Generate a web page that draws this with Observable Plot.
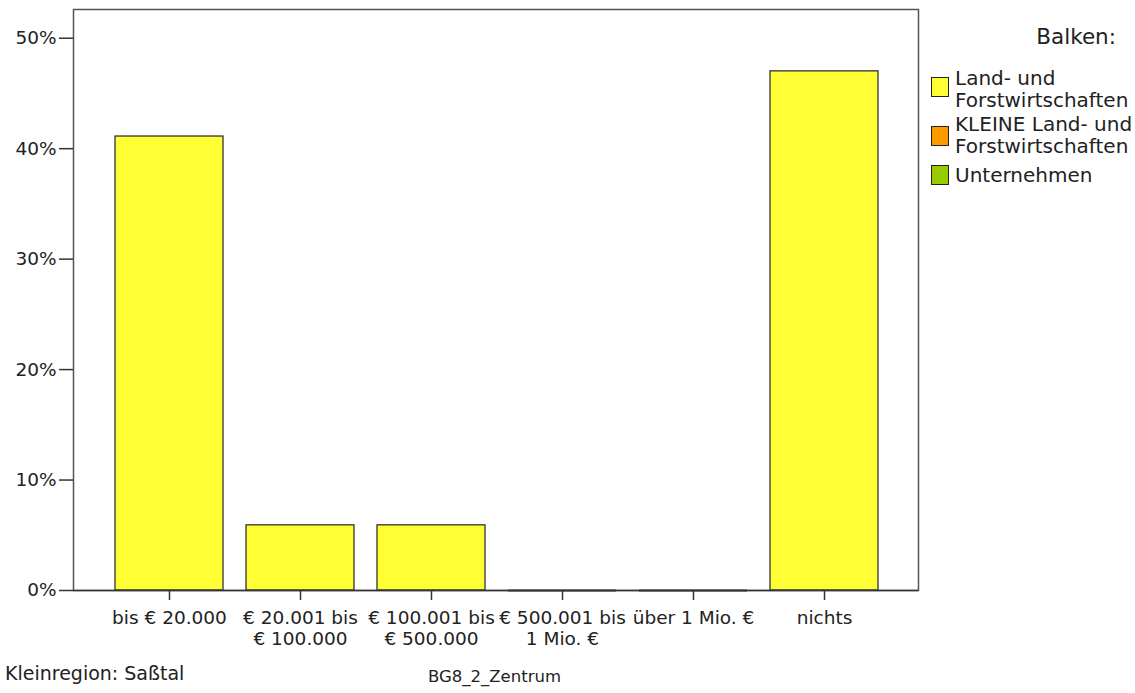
<!DOCTYPE html>
<html>
<head>
<meta charset="utf-8">
<script src="https://cdn.jsdelivr.net/npm/d3@7"></script>
<script src="https://cdn.jsdelivr.net/npm/@observablehq/plot@0.6"></script>
<style>
  body { margin: 0; background: #fff; font-family: "DejaVu Sans", sans-serif; color: #222; }
  #wrap { position: relative; width: 1135px; height: 693px; }
  .abs { position: absolute; white-space: pre; }
  .lbl { font-size: 20px; line-height: 22px; }
  .sw { position: absolute; width: 16px; height: 18px; border: 1px solid #222; }
</style>
</head>
<body>
<div id="wrap"></div>
<script>
const categories = ["bis € 20.000", "€ 20.001 bis\n€ 100.000", "€ 100.001 bis\n€ 500.000", "€ 500.001 bis\n1 Mio. €", "über 1 Mio. €", "nichts"];
const values = [41.1, 5.9, 5.9, 0, 0, 47.0];
const yTicks = [0, 10, 20, 30, 40, 50];
const legendLabels = ["Land- und\nForstwirtschaften", "KLEINE Land- und\nForstwirtschaften", "Unternehmen"];
const legendColors = ["#ffff33", "#ff9900", "#99cc00"];
const legendTitle = "Balken:";
const footLeft = "Kleinregion: Saßtal";
const footCenter = "BG8_2_Zentrum";

const data = categories.map((c, i) => ({cat: c, value: values[i]}));

const chart = Plot.plot({
  width: 1135,
  height: 693,
  marginLeft: 73,
  marginRight: 217,
  marginTop: 9,
  marginBottom: 103,
  style: {fontFamily: "'DejaVu Sans', sans-serif", fontSize: "18.5px", color: "#222"},
  x: {domain: categories, range: [91, 902], padding: 0.1756, label: null},
  y: {domain: [0, 52.6], label: null},
  marks: [
    Plot.barY(data.filter(d => d.value > 0), {x: "cat", y: "value", fill: "#ffff33", stroke: "#333", strokeWidth: 1.3}),
    Plot.tickY(data.filter(d => d.value === 0), {x: "cat", y: "value", stroke: "#333", strokeWidth: 2}),
    Plot.frame({stroke: "#555", strokeWidth: 1.5}),
    Plot.axisY({ticks: yTicks, tickFormat: d => d + "%", tickSize: 14, tickPadding: 3, stroke: "#333", strokeWidth: 1.5, label: null}),
    Plot.axisX({tickSize: 10, tickPadding: 9, lineHeight: 1.13, stroke: "#333", strokeWidth: 1.5, label: null}),
    Plot.ruleY([0], {stroke: "#333", strokeWidth: 1.5})
  ]
});

const wrap = document.getElementById("wrap");
wrap.appendChild(chart);

function addText(txt, left, top, cls, styles) {
  const d = document.createElement("div");
  d.className = "abs " + (cls || "");
  d.style.left = left + "px";
  d.style.top = top + "px";
  Object.assign(d.style, styles || {});
  d.textContent = txt;
  wrap.appendChild(d);
  return d;
}

// legend title, right-aligned at x=1116
const title = addText(legendTitle, 0, 24, "", {fontSize: "21.5px"});
title.style.left = "auto";
title.style.right = (1135 - 1116) + "px";

const textTops = [67, 113, 164];
const swTops = [77, 126, 165];
legendLabels.forEach((l, i) => {
  addText(l, 955, textTops[i], "lbl");
  const sw = document.createElement("div");
  sw.className = "sw";
  sw.style.left = "931px";
  sw.style.top = swTops[i] + "px";
  sw.style.background = legendColors[i];
  wrap.appendChild(sw);
});

addText(footLeft, 5, 662, "", {fontSize: "19px"});
addText(footCenter, 428, 667, "", {fontSize: "16.5px"});
</script>
</body>
</html>
